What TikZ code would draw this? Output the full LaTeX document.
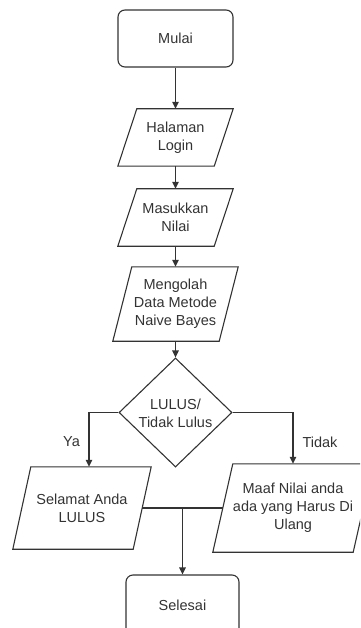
\documentclass[tikz,border=0pt]{standalone}
\usepackage{fontspec}
\setmainfont{Liberation Sans}
\usetikzlibrary{arrows.meta,calc,shapes.geometric}
\begin{document}
\begin{tikzpicture}[x=1pt,y=-1pt,
  line/.style={draw=black!80, line width=1.1pt},
  arr/.style={line, -{Triangle[length=7pt,width=6.5pt]}},
  txt/.style={font=\fontsize{14.5}{18}\selectfont, text=black!80, align=center, inner sep=0pt},
  term/.style={txt, draw=black!80, line width=1.1pt, rounded corners=7pt},
  pbox/.style 2 args={txt, minimum width=#1, minimum height=#2}
]
\useasboundingbox (0,0) rectangle (360,628);
\clip (0,0) rectangle (360,628);
\newcommand{\paraoutline}[2]{\draw[line] ([xshift=#2]#1.north west) -- (#1.north east) -- ([xshift=-#2]#1.south east) -- (#1.south west) -- cycle;}

\node[term, minimum width=115pt, minimum height=57pt] (mulai) at (175.5,38.5) {Mulai};
\node[pbox={115pt}{57pt}] (login) at (175.5,137.5) {Halaman\\Login};
\paraoutline{login}{19pt}
\node[pbox={115pt}{57pt}] (masuk) at (175.5,217.5) {Masukkan\\Nilai};
\paraoutline{masuk}{19pt}
\node[pbox={125pt}{74pt}] (olah) at (175.5,304) {Mengolah\\Data Metode\\Naive Bayes};
\paraoutline{olah}{19pt}
\node[diamond, line, minimum width=113pt, minimum height=109pt, inner sep=0pt] (dec) at (175.5,412.5) {};
\node[txt] (dectxt) at (175.5,413) {LULUS/\\Tidak Lulus};
\node[pbox={138pt}{82pt}] (selamat) at (82,508) {Selamat Anda\\LULUS};
\paraoutline{selamat}{18pt}
\node[pbox={160pt}{88pt}] (maaf) at (293,508) {Maaf Nilai anda\\ada yang Harus Di\\Ulang};
\paraoutline{maaf}{20pt}
\node[term, minimum width=113pt, minimum height=60pt] (selesai) at (182.5,605) {Selesai};

\node[txt] (ya) at (71.5,442) {Ya};
\node[txt] (tidak) at (320,442) {Tidak};

\draw[arr] (mulai.south) -- (login.north);
\draw[arr] (login.south) -- (masuk.north);
\draw[arr] (masuk.south) -- (olah.north);
\draw[arr] (olah.south) -- (dec.north);
\draw[arr] (dec.west) -| ($(selamat.north)+(7,0)$);
\draw[arr] (dec.east) -| (maaf.north);
\draw[line] ($(selamat.east)+(-9,0)$) -- ($(maaf.west)+(10,0)$);
\coordinate (join) at (selesai.north |- selamat.east);
\draw[arr] (join) -- (selesai.north);
\end{tikzpicture}
\end{document}
